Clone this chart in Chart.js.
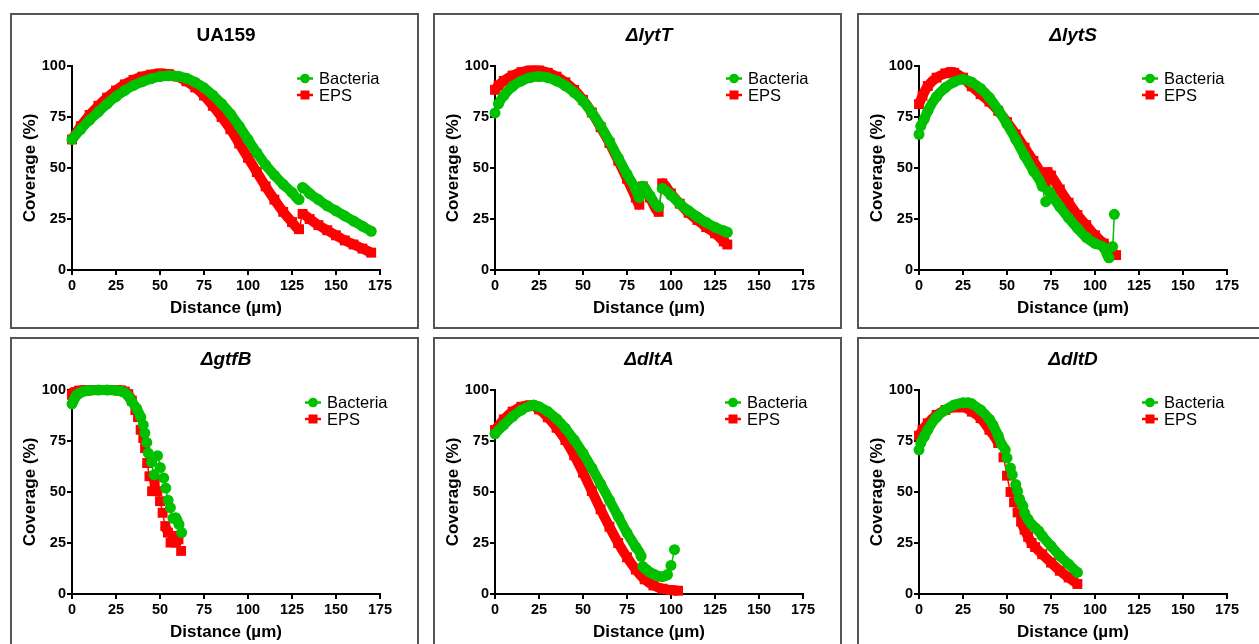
<!DOCTYPE html>
<html>
<head>
<meta charset="utf-8">
<script src="https://cdn.jsdelivr.net/npm/chart.js@4.4.0/dist/chart.umd.min.js"></script>
<style>
  body { margin: 0; width: 1259px; height: 644px; overflow: hidden; background: #fff; position: relative; }
  .panel { position: absolute; width: 405px; height: 312px; border: 2px solid #555; }
  .panel canvas { display: block; }
</style>
</head>
<body>
<div class="panel" style="left:10px;top:13px"><canvas id="c0" width="405" height="312"></canvas></div>
<div class="panel" style="left:433px;top:13px"><canvas id="c1" width="405" height="312"></canvas></div>
<div class="panel" style="left:857px;top:13px"><canvas id="c2" width="405" height="312"></canvas></div>
<div class="panel" style="left:10px;top:337px"><canvas id="c3" width="405" height="312"></canvas></div>
<div class="panel" style="left:433px;top:337px"><canvas id="c4" width="405" height="312"></canvas></div>
<div class="panel" style="left:857px;top:337px"><canvas id="c5" width="405" height="312"></canvas></div>
<script>
const panelTitles = ['UA159', 'ΔlytT', 'ΔlytS', 'ΔgtfB', 'ΔdltA', 'ΔdltD'];
const seriesNames = ['Bacteria', 'EPS'];
const distanceTicks = [0, 25, 50, 75, 100, 125, 150, 175];
const coverageTicks = [0, 25, 50, 75, 100];

// UA159
const ua159Dist = [0, 5, 10, 15, 20, 25, 30, 35, 40, 45, 50, 55, 60, 65, 70, 75, 80, 85, 90, 95, 100, 105, 110, 115, 120, 125, 129, 131, 135, 140, 145, 150, 155, 160, 165, 170];
const ua159Bacteria = [64, 69, 73.5, 77.5, 81.5, 85, 88, 90.5, 92.3, 93.8, 94.8, 95.2, 95, 94, 92, 89.3, 85.7, 81.5, 76.5, 70.5, 64, 57.5, 51.5, 46.5, 42, 38, 34.5, 40.5, 37.5, 34.5, 31.5, 29, 26.5, 24, 21.5, 19];
const ua159EPS = [64, 70.5, 76, 80.5, 84.5, 88, 91, 93.2, 94.8, 95.8, 96.3, 96, 94.8, 92.5, 89.5, 85.5, 80.5, 75, 69, 62, 55, 48, 41, 34.5, 28.5, 23.5, 20, 27.5, 25, 22, 19.5, 17, 14.5, 12.5, 10.5, 8.5];

// lytT
const lytTDist = [0, 2, 5, 10, 15, 20, 25, 30, 35, 40, 45, 50, 55, 60, 65, 70, 75, 80, 82, 84, 88, 93, 95, 100, 105, 110, 115, 120, 125, 130, 132];
const lytTBacteria = [77, 81.5, 85.5, 90, 92.7, 94.3, 94.8, 94.3, 92.7, 90.3, 87, 82.8, 77.2, 70.7, 63.2, 55, 47, 39.5, 35.5, 41, 36.5, 31, 40, 36.6, 32.5, 29, 26, 23.3, 21, 19.2, 18.5];
const lytTEPS = [88.3, 90.5, 92.7, 95.3, 97, 97.8, 97.8, 96.7, 94.8, 92, 88.3, 83.4, 77.2, 70, 62.3, 53.6, 44.7, 35.5, 32, 41, 35.5, 28.5, 42.5, 37.5, 32.5, 28, 24.5, 21, 18, 14, 12.5];

// lytS
const lytSDistB = [0, 1, 3, 5, 10, 15, 20, 25, 30, 35, 40, 45, 50, 55, 60, 65, 70, 72, 74, 75, 80, 85, 90, 95, 100, 105, 108, 110, 111];
const lytSBacteria = [66.5, 70.5, 74, 78, 85, 89.4, 92.2, 93.5, 92, 89, 84.5, 78.5, 71.5, 64, 56, 48.5, 41, 33.5, 38.5, 37, 31, 25.5, 20.5, 16, 13, 11, 6, 11.5, 27.3];
const lytSDistE = [0, 2, 5, 10, 15, 18, 20, 25, 30, 35, 40, 45, 50, 55, 60, 65, 70, 72, 73, 75, 80, 85, 90, 95, 100, 105, 108, 110, 112];
const lytSEPS = [81.3, 85.4, 90.2, 94.3, 96.4, 97, 96.7, 94.3, 90, 86.2, 82.5, 78, 72.5, 66.5, 60, 53.5, 46.5, 43, 48, 46.3, 39.5, 33, 27, 22, 17, 13, 10, 7.6, 7.3];

// gtfB
const gtfBDistB = [0, 1, 2, 3, 4, 6, 8, 10, 15, 20, 25, 28, 30, 32, 34, 36.7, 39.1, 40.5, 41.4, 42.5, 43.3, 45.2, 46.7, 48.6, 50.2, 52.1, 53.3, 54.6, 55.9, 57.4, 58.9, 60.8, 62.3];
const gtfBBacteria = [93.2, 95, 96.7, 97.8, 98.4, 99.2, 99.6, 99.8, 100, 100, 99.8, 99.4, 98.7, 97, 94.3, 91, 86.7, 82.9, 78.9, 74.3, 69.1, 64.6, 58.4, 67.8, 62, 56.9, 51.9, 46, 42.3, 37.1, 37.4, 34.1, 30.1];
const gtfBDistE = [0, 1, 2, 4, 8, 15, 20, 25, 28, 30, 32, 34, 36, 37.5, 39, 40.5, 41.5, 42.7, 44, 45.5, 47, 48.5, 50, 51.5, 53, 54.5, 56, 57.5, 59, 60.5, 62];
const gtfBEPS = [97.6, 98.5, 99, 99.7, 100, 100, 100, 100, 99.8, 99.2, 98, 94.8, 90.2, 86.7, 80.5, 76.4, 71.5, 64.2, 57.7, 50.4, 54.5, 50.4, 45.5, 39.8, 33.3, 30.1, 25.2, 28.5, 25.2, 26.8, 21.1];

// dltA
const dltADistB = [0, 5, 10, 15, 20, 22, 25, 30, 35, 40, 45, 50, 55, 60, 65, 70, 75, 80, 83, 84, 86, 88, 90, 92, 95, 98, 100, 102];
const dltABacteria = [78.5, 82.9, 87, 90.2, 92.2, 92.7, 91.8, 89.4, 85.8, 81.2, 75.5, 69, 61.8, 54, 46, 38, 30, 23, 18.5, 13.5, 12, 10.6, 9.8, 9, 8.5, 9.5, 14, 21.7];
const dltADistE = [0, 5, 10, 15, 20, 25, 30, 35, 40, 45, 50, 55, 60, 65, 70, 75, 80, 85, 90, 95, 100, 104];
const dltAEPS = [80.4, 85.6, 89.4, 91.8, 92.5, 90.5, 86.6, 81.5, 75.5, 68, 59.5, 50.5, 41.5, 33, 25, 18, 12, 7.2, 4.2, 2.6, 1.9, 1.6];

// dltD
const dltDDistB = [0, 1, 3, 5, 10, 15, 20, 25, 28, 30, 35, 40, 42, 45, 47, 49, 50, 52, 53, 55, 56, 57, 59, 60, 62, 64, 66, 68, 70, 75, 80, 85, 90];
const dltDBacteria = [70.7, 74, 77.2, 80.5, 86.7, 90.2, 92.7, 93.8, 93.8, 93.2, 90.2, 85.7, 82.9, 77.6, 73.2, 70.7, 66.7, 61.8, 58.5, 53.7, 50.4, 46.7, 43.1, 39.8, 36.6, 34.1, 32.5, 30.9, 28.5, 23.6, 18.7, 14.6, 10.6];
const dltDDistE = [0, 2, 5, 10, 15, 20, 25, 30, 35, 40, 45, 48, 50, 52, 54, 56, 58, 60, 62, 64, 66, 70, 75, 80, 85, 90];
const dltDEPS = [77.6, 80.5, 83.7, 87.8, 90.2, 91.5, 91.5, 89.4, 86.2, 80.5, 74, 67, 58, 50, 45, 40, 35.5, 31.5, 28, 25, 23, 19.5, 15.4, 11.4, 8.1, 4.9];

const GREEN = '#00c000';
const RED = '#ff0000';
const FONT = '"Liberation Sans", Arial, Helvetica, sans-serif';

const panels = [
    { id: 'c0', italic: false, legendX: 233, bx: ua159Dist, by: ua159Bacteria, ex: ua159Dist, ey: ua159EPS },
    { id: 'c1', italic: true, legendX: 239, bx: lytTDist, by: lytTBacteria, ex: lytTDist, ey: lytTEPS },
    { id: 'c2', italic: true, legendX: 231, bx: lytSDistB, by: lytSBacteria, ex: lytSDistE, ey: lytSEPS },
    { id: 'c3', italic: true, legendX: 241, bx: gtfBDistB, by: gtfBBacteria, ex: gtfBDistE, ey: gtfBEPS },
    { id: 'c4', italic: true, legendX: 238, bx: dltADistB, by: dltABacteria, ex: dltADistE, ey: dltAEPS },
    { id: 'c5', italic: true, legendX: 231, bx: dltDDistB, by: dltDBacteria, ex: dltDDistE, ey: dltDEPS }
];

function pts(xs, ys) {
    return xs.map((x, i) => ({ x: x, y: ys[i] }));
}

// thin line across jumps, thick band elsewhere
function segWidth(ctx) {
    const dx = ctx.p1.parsed.x - ctx.p0.parsed.x;
    const dy = ctx.p1.parsed.y - ctx.p0.parsed.y;
    return Math.abs(dy / dx) > 2.2 ? 1.5 : 10;
}

// panel title + legend, placed relative to the plot area
const panelDecor = {
    id: 'panelDecor',
    afterDraw(chart, args, opts) {
        const ctx = chart.ctx;
        const a = chart.chartArea;
        ctx.save();
        ctx.fillStyle = '#000';
        ctx.textAlign = 'center';
        ctx.textBaseline = 'middle';
        ctx.font = (opts.italic ? 'italic ' : '') + 'bold 19px ' + FONT;
        ctx.fillText(opts.title, (a.left + a.right) / 2, a.top - 30.5);

        ctx.textAlign = 'left';
        ctx.font = '16.5px ' + FONT;
        chart.data.datasets.forEach((ds, i) => {
            const x = a.left + opts.legendX;
            const y = a.top + 12.5 + i * 16.5;
            ctx.strokeStyle = ds.borderColor;
            ctx.lineWidth = 2.5;
            ctx.beginPath();
            ctx.moveTo(x - 8, y);
            ctx.lineTo(x + 8, y);
            ctx.stroke();
            ctx.fillStyle = ds.borderColor;
            if (ds.pointStyle === 'rect') {
                ctx.fillRect(x - 4.5, y - 4.5, 9, 9);
            } else {
                ctx.beginPath();
                ctx.arc(x, y, 4.8, 0, Math.PI * 2);
                ctx.fill();
            }
            ctx.fillStyle = '#000';
            ctx.fillText(ds.label, x + 14, y + 1);
        });
        ctx.restore();
    }
};

function axisBase(tickList, titleText) {
    return {
        type: 'linear',
        min: tickList[0],
        max: tickList[tickList.length - 1],
        afterBuildTicks: (s) => { s.ticks = tickList.map(v => ({ value: v })); },
        ticks: { color: '#000', font: { family: FONT, size: 14.5, weight: 'bold' }, maxRotation: 0, autoSkip: false },
        grid: { drawOnChartArea: false, drawTicks: true, tickLength: 5, color: '#000', lineWidth: 2 },
        border: { display: true, color: '#000', width: 2 },
        title: { display: true, text: titleText, color: '#000', font: { family: FONT, size: 17, weight: 'bold' } }
    };
}

panels.forEach((p, k) => {
    const xAxis = axisBase(distanceTicks, 'Distance (µm)');
    xAxis.ticks.padding = 2;
    xAxis.title.padding = { top: 0, bottom: 8.8 };
    xAxis.afterFit = (s) => { s.height = 57; };

    const yAxis = axisBase(coverageTicks, 'Coverage (%)');
    yAxis.ticks.padding = 1;
    yAxis.title.padding = { top: 8, bottom: 0 };
    yAxis.afterFit = (s) => { s.width = 60; };

    new Chart(document.getElementById(p.id), {
        type: 'line',
        data: {
            datasets: [{
                label: seriesNames[0],
                data: pts(p.bx, p.by),
                borderColor: GREEN,
                backgroundColor: GREEN,
                pointStyle: 'circle',
                pointRadius: 5.5,
                pointBorderWidth: 0,
                pointBackgroundColor: GREEN,
                borderWidth: 10,
                borderCapStyle: 'round',
                borderJoinStyle: 'round',
                cubicInterpolationMode: 'monotone',
                segment: { borderWidth: segWidth },
                clip: false
            }, {
                label: seriesNames[1],
                data: pts(p.ex, p.ey),
                borderColor: RED,
                backgroundColor: RED,
                pointStyle: 'rect',
                pointRadius: 7,
                pointBorderWidth: 0,
                pointBackgroundColor: RED,
                borderWidth: 10,
                borderCapStyle: 'butt',
                borderJoinStyle: 'miter',
                cubicInterpolationMode: 'monotone',
                segment: { borderWidth: segWidth },
                clip: false
            }]
        },
        options: {
            responsive: false,
            animation: false,
            events: [],
            layout: { padding: { top: 51, right: 37, bottom: 0, left: 0 } },
            plugins: {
                legend: { display: false },
                tooltip: { enabled: false },
                panelDecor: { title: panelTitles[k], italic: p.italic, legendX: p.legendX }
            },
            scales: { x: xAxis, y: yAxis }
        },
        plugins: [panelDecor]
    });
});
</script>
</body>
</html>
